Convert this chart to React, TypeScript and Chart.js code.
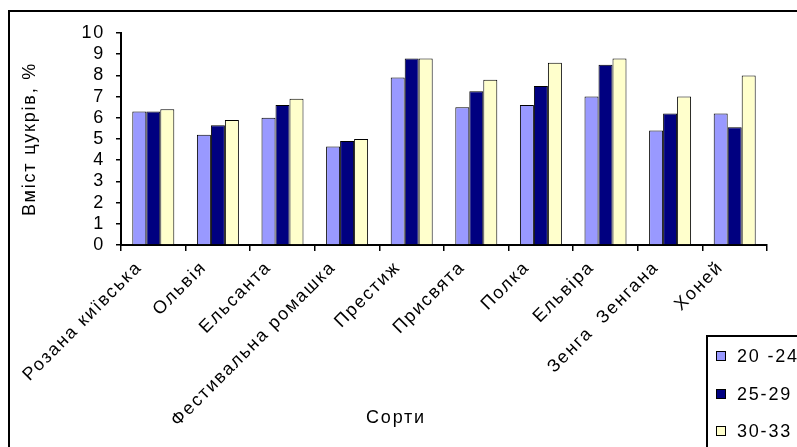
import React, { useEffect, useRef } from "react";
import { Chart, registerables } from "chart.js";

Chart.register(...registerables);

const categories = [
  "Розана київська",
  "Ольвія",
  "Ельсанта",
  "Фестивальна ромашка",
  "Престиж",
  "Присвята",
  "Полка",
  "Ельвіра",
  "Зенга  Зенгана",
  "Хоней",
];

const seriesNames = ["20 -24", "25-29", "30-33"];
const series1 = [6.3, 5.2, 6.0, 4.65, 7.9, 6.5, 6.6, 7.0, 5.4, 6.2];
const series2 = [6.3, 5.65, 6.6, 4.9, 8.8, 7.25, 7.5, 8.5, 6.2, 5.55];
const series3 = [6.4, 5.9, 6.9, 5.0, 8.8, 7.8, 8.6, 8.8, 7.0, 8.0];
const seriesColors = ["#9999FF", "#000080", "#FFFFCC"];

const yTitle = "Вміст цукрів, %";
const xTitle = "Сорти";

const FONT = "'Liberation Sans', Arial, sans-serif";
const FS = 18;
const W = 797;
const H = 447;

// Slightly spaced-out lettering for every text on the canvas
const spacing = {
  id: "spacing",
  beforeLayout(chart: any) {
    (chart.ctx as any).letterSpacing = "1.8px";
  },
  beforeDraw(chart: any) {
    (chart.ctx as any).letterSpacing = "1.8px";
  },
};

// Outer frame, axis title for categories and the boxed legend in the lower-right corner
const decorations = {
  id: "decorations",
  afterDraw(chart: any) {
    const ctx = chart.ctx as CanvasRenderingContext2D;
    ctx.save();
    (ctx as any).letterSpacing = "1.8px";
    // frame
    ctx.strokeStyle = "#000";
    ctx.lineWidth = 2;
    ctx.strokeRect(9, 11, W + 20, H + 20);

    // x axis title
    ctx.fillStyle = "#000";
    ctx.font = `${FS}px ${FONT}`;
    ctx.textAlign = "center";
    ctx.textBaseline = "middle";
    ctx.fillText(xTitle, 396, 418);

    // legend box
    const lx = 707;
    const ly = 336;
    ctx.fillStyle = "#fff";
    ctx.fillRect(lx, ly, W, H);
    ctx.lineWidth = 2;
    ctx.strokeRect(lx, ly, W, H);
    const rows = [356, 394, 431];
    chart.data.datasets.forEach((ds: any, i: number) => {
      const cy = rows[i];
      ctx.fillStyle = ds.backgroundColor;
      ctx.fillRect(716, cy - 5, 10, 10);
      ctx.lineWidth = 1;
      ctx.strokeStyle = "#000";
      ctx.strokeRect(716.5, cy - 4.5, 9, 9);
      ctx.fillStyle = "#000";
      ctx.textAlign = "left";
      ctx.font = `${FS}px ${FONT}`;
      ctx.fillText(ds.label, 737, cy + 1);
    });
    ctx.restore();
  },
};

export default function App() {
  const ref = useRef<HTMLCanvasElement>(null);

  useEffect(() => {
    document.body.style.margin = "0";
    const canvas = ref.current;
    if (!canvas) return;
    const data = [series1, series2, series3];
    const chart = new Chart(canvas, {
      type: "bar",
      data: {
        labels: categories,
        datasets: data.map((d, i) => ({
          label: seriesNames[i],
          data: d,
          backgroundColor: seriesColors[i],
          borderColor: "#000",
          borderWidth: 1,
          categoryPercentage: 0.65,
          barPercentage: 1.0,
        })),
      },
      options: {
        responsive: false,
        animation: false,
        devicePixelRatio: 1,
        layout: { padding: { top: 33, right: 30, left: 0, bottom: 0 } },
        plugins: {
          legend: { display: false },
          tooltip: { enabled: false },
        },
        scales: {
          x: {
            afterFit(scale: any) {
              scale.height = H - 245;
            },
            grid: {
              drawOnChartArea: false,
              drawTicks: true,
              tickLength: 6,
              color: "#000",
              lineWidth: 1.5,
            },
            border: { color: "#000", width: 2 },
            ticks: {
              color: "#000",
              font: { family: FONT, size: FS },
              maxRotation: 45,
              minRotation: 45,
              autoSkip: false,
              padding: 6,
              labelOffset: -14,
            },
          },
          y: {
            min: 0,
            max: 10,
            afterFit(scale: any) {
              scale.width = 121;
            },
            grid: {
              drawOnChartArea: false,
              drawTicks: true,
              tickLength: 5,
              color: "#000",
              lineWidth: 1.5,
            },
            border: { color: "#000", width: 2 },
            ticks: {
              stepSize: 1,
              autoSkip: false,
              color: "#000",
              font: { family: FONT, size: FS },
              padding: 11,
            },
            title: {
              display: true,
              text: yTitle,
              color: "#000",
              font: { family: FONT, size: FS },
              padding: { top: 19, bottom: 0 },
            },
          },
        },
      },
      plugins: [spacing, decorations],
    });
    return () => chart.destroy();
  }, []);

  return <canvas ref={ref} width={W} height={H} style={{ display: "block" }} />;
}
